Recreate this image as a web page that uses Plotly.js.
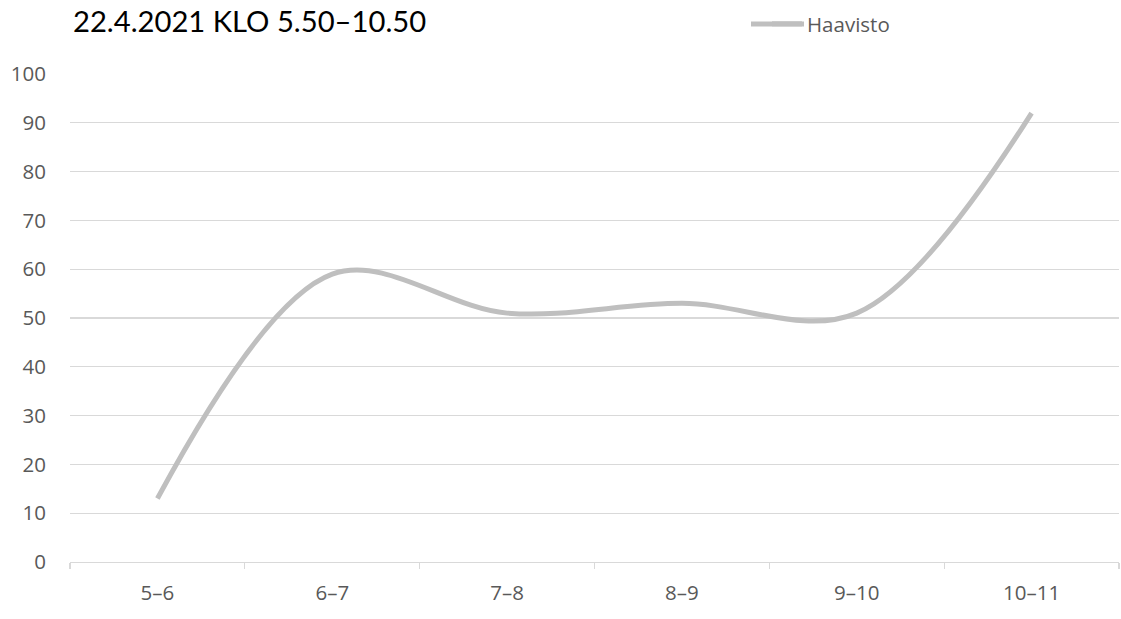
<!DOCTYPE html>
<html>
<head>
<meta charset="utf-8">
<script src="https://cdn.plot.ly/plotly-3.0.1.min.js"></script>
<style>html,body{margin:0;padding:0;background:#fff;}#chart{width:1121px;height:619px;}</style>
</head>
<body>
<div id="chart"></div>
<script>
const categories = ["5–6", "6–7", "7–8", "8–9", "9–10", "10–11"];
const haavisto = [13, 59, 51, 53, 51, 92];
const seriesName = "Haavisto";
const titleText = "22.4.2021 KLO 5.50–10.50";

const trace = {
  x: categories,
  y: haavisto,
  type: "scatter",
  mode: "lines",
  name: seriesName,
  line: {color: "#bfbfbf", width: 5, shape: "spline", smoothing: 1},
  showlegend: true
};

const plotL = 70, plotR = 1119, plotT = 74, plotB = 562;
const pw = plotR - plotL, ph = plotB - plotT;

const layout = {
  width: 1121,
  height: 619,
  margin: {l: plotL, r: 1121 - plotR, t: plotT, b: 619 - plotB},
  paper_bgcolor: "#ffffff",
  plot_bgcolor: "#ffffff",
  font: {family: "Open Sans, Liberation Sans, sans-serif", size: 20, color: "#595959"},
  title: {
    text: titleText,
    xref: "container", yref: "container",
    x: 73/1121, xanchor: "left",
    y: 1 - 22/619, yanchor: "middle",
    font: {family: "Lato, Noto Sans, sans-serif", size: 29.2, color: "#000000"}
  },
  showlegend: true,
  legend: {
    orientation: "h",
    x: (767 - plotL) / pw, xanchor: "left",
    y: 1 + (plotT - 24) / ph, yanchor: "middle",
    font: {size: 20.5, color: "#595959"},
    bgcolor: "rgba(0,0,0,0)",
    itemwidth: 30
  },
  shapes: [{
    type: "line", xref: "paper", yref: "paper",
    x0: (751 - plotL) / pw, x1: (804 - plotL) / pw,
    y0: 1 + (plotT - 24) / ph, y1: 1 + (plotT - 24) / ph,
    line: {color: "#bfbfbf", width: 5}
  }],
  xaxis: {
    type: "category",
    range: [-0.5, 5.5],
    tickson: "boundaries",
    ticks: "outside",
    ticklen: 6,
    tickcolor: "#d9d9d9",
    tickwidth: 1.3,
    showline: true,
    linecolor: "#d9d9d9",
    linewidth: 1.3,
    showgrid: false,
    zeroline: false,
    tickfont: {size: 20.5, color: "#595959"},
    ticklabelstandoff: 12,
    fixedrange: true
  },
  yaxis: {
    range: [0, 100],
    dtick: 10,
    tick0: 0,
    showgrid: true,
    gridcolor: "#d9d9d9",
    gridwidth: 1.3,
    zeroline: false,
    showline: false,
    ticks: "",
    tickfont: {size: 20.5, color: "#595959"},
    ticklabelstandoff: 23,
    fixedrange: true
  }
};

Plotly.newPlot("chart", [trace], layout, {displayModeBar: false, staticPlot: true});
</script>
</body>
</html>
